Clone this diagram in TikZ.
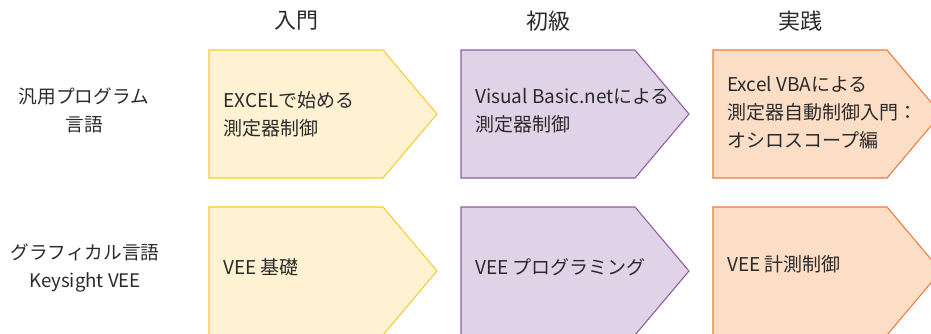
\documentclass[tikz,border=0pt]{standalone}
\usepackage{fontspec}
\newfontfamily\jpfont{Noto Sans CJK JP}
\definecolor{introfill}{HTML}{FFF2D2}
\definecolor{introline}{HTML}{F8CD2E}
\definecolor{basicfill}{HTML}{E0D3E8}
\definecolor{basicline}{HTML}{8F5BA8}
\definecolor{practfill}{HTML}{FCDDC6}
\definecolor{practline}{HTML}{F07A3A}
\definecolor{inkgray}{HTML}{2A2A2A}
\tikzset{
	tag/.style={line width=0.8pt,line join=miter},
	introtag/.style={tag,draw=introline,fill=introfill},
	basictag/.style={tag,draw=basicline,fill=basicfill},
	practtag/.style={tag,draw=practline,fill=practfill},
	head/.style={text=inkgray,font=\jpfont\fontsize{16.5}{20}\selectfont},
	rowlabel/.style={align=center,text=inkgray,font=\jpfont\fontsize{14}{21}\selectfont},
	boxtext/.style={anchor=west,align=left,inner sep=0pt,text=inkgray,font=\jpfont\fontsize{14.25}{21}\selectfont}
}
\begin{document}
\begin{tikzpicture}[x=0.75pt,y=-0.75pt]
	\useasboundingbox(0,0)rectangle(931,333);
	\clip(0,0)rectangle(931,333);
	% column heads
	\node[head](intro)at(296,21){入門};
	\node[head](basic)at(548,21){初級};
	\node[head](practice)at(800,21){実践};
	% row heads
	\node[rowlabel](general)at(84,110){汎用プログラム\\言語};
	\node[rowlabel](graphical)at(85,268){グラフィカル言語\\Keysight VEE};
	% first row
	\draw[introtag](209,50)--++(174,0)--++(54,64)--++(-54,64)--++(-174,0)--cycle;
	\draw[basictag](461,50)--++(174,0)--++(54,64)--++(-54,64)--++(-174,0)--cycle;
	\draw[practtag](713,50)--++(174,0)--++(54,64)--++(-54,64)--++(-174,0)--cycle;
	\node[boxtext](excel)at(223,114){EXCELで始める\\測定器制御};
	\node[boxtext](vbnet)at(475,111){Visual Basic.netによる\\測定器制御};
	\node[boxtext](vba)at(727,113){Excel VBAによる\\測定器自動制御入門：\\オシロスコープ編};
	% second row
	\draw[introtag](209,207)--++(174,0)--++(54,64)--++(-54,64)--++(-174,0)--cycle;
	\draw[basictag](461,207)--++(174,0)--++(54,64)--++(-54,64)--++(-174,0)--cycle;
	\draw[practtag](713,207)--++(174,0)--++(54,64)--++(-54,64)--++(-174,0)--cycle;
	\node[boxtext](veebase)at(223,267){VEE 基礎};
	\node[boxtext](veeprog)at(475,267){VEE プログラミング};
	\node[boxtext](veectrl)at(727,264){VEE 計測制御};
\end{tikzpicture}
\end{document}
